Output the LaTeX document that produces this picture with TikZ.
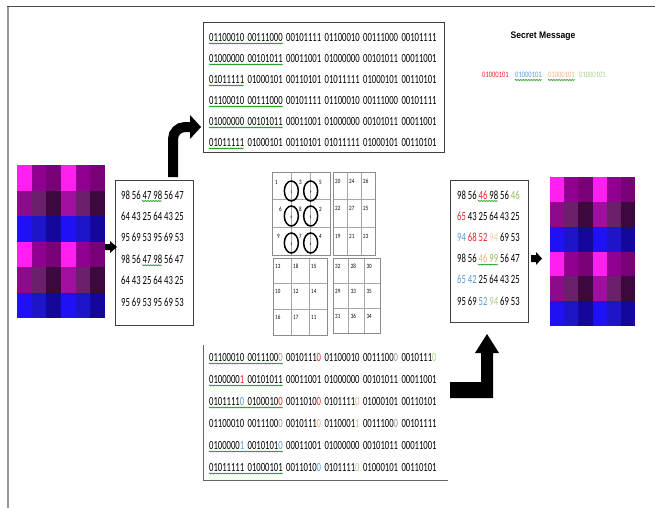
\documentclass[tikz,border=0pt]{standalone}
\usepackage{fontspec}
\setmainfont{Carlito}
\newfontfamily\cnum[FakeStretch=0.78]{Carlito}
\newfontfamily\cnar[FakeStretch=0.69]{Carlito}
\newfontfamily\hbold[FakeStretch=0.9]{Liberation Sans}
\usetikzlibrary{decorations.pathmorphing}
\definecolor{kred}{HTML}{E8262B}
\definecolor{kblue}{HTML}{5B9BD5}
\definecolor{korange}{HTML}{F4B183}
\definecolor{kgreen}{HTML}{A9D18E}
\definecolor{kolive}{HTML}{9BBB59}
\definecolor{kpink}{HTML}{F8CBAD}
\definecolor{klight}{HTML}{9A9A9A}
\definecolor{mA}{HTML}{FF20F0}
\definecolor{mB}{HTML}{900090}
\definecolor{mC}{HTML}{7A0078}
\definecolor{pA}{HTML}{8B0B8B}
\definecolor{pB}{HTML}{6A206A}
\definecolor{pC}{HTML}{3D083D}
\definecolor{pD}{HTML}{A010A0}
\definecolor{bA}{HTML}{2010F5}
\definecolor{bB}{HTML}{1E14C8}
\definecolor{bC}{HTML}{14089A}
\newcommand\kR[1]{\textcolor{kred}{#1}}
\newcommand\kB[1]{\textcolor{kblue}{#1}}
\newcommand\kO[1]{\textcolor{korange}{#1}}
\newcommand\kG[1]{\textcolor{kgreen}{#1}}
\newcommand\kV[1]{\textcolor{kolive}{#1}}
\newcommand\kP[1]{\textcolor{kpink}{#1}}
\newcommand\kL[1]{\textcolor{klight}{#1}}
\begin{document}
\begin{tikzpicture}[x=1pt,y=-1pt,
  box/.style={draw=black!75, line width=0.7pt, fill=white, inner sep=0pt},
  imgbox/.style={inner sep=0pt},
  wavy/.style={draw=green!55!black, line width=0.4pt, decorate,
    decoration={snake, amplitude=0.5pt, segment length=1.6pt}},
  bin/.style={anchor=west, inner sep=0pt, font={\cnar\fontsize{12.5}{13}\selectfont\spaceskip=3.5pt\relax}},
  num/.style={anchor=west, inner sep=0pt, font={\cnar\fontsize{12.5}{13}\selectfont\spaceskip=2pt\relax}},
  sbin/.style={anchor=west, inner sep=0pt, font={\cnum\fontsize{8.4}{9}\selectfont}},
  gnum/.style={anchor=west, inner sep=0pt, font={\cnum\fontsize{6.5}{7}\selectfont}},
  cnum/.style={inner sep=0pt, font={\cnum\fontsize{4}{5}\selectfont}},
  outerln/.style={draw=black!45, line width=1pt},
  innerln/.style={draw=black!35, line width=0.6pt},
  ring/.style={draw=black, line width=1.5pt},
  blk/.style={fill=black}]
\useasboundingbox (0,0) rectangle (655,508);
% frame
\draw[black!70, line width=1pt] (7,7) -- (655,7);
\draw[black!40, line width=1.5pt] (8,7) -- (8,508);

% ---------- left pixel image ----------
\node[imgbox, minimum width=88, minimum height=153] (limg) at (61,241.5) {};
\foreach \r in {0,3}{
  \foreach \c [count=\i from 0] in {mA,mB,mC,mA,mB,mC}
    \fill[\c] (17+\i*14.667,165+\r*25.5) rectangle ++(14.667,25.5);
  \foreach \c [count=\i from 0] in {pA,pB,pC,pD,pB,pC}
    \fill[\c] (17+\i*14.667,165+\r*25.5+25.5) rectangle ++(14.667,25.5);
  \foreach \c [count=\i from 0] in {bA,bB,bC,bA,bB,bC}
    \fill[\c] (17+\i*14.667,165+\r*25.5+51) rectangle ++(14.667,25.5);
}
% ---------- right pixel image ----------
\node[imgbox, minimum width=85, minimum height=149] (rimg) at (592.5,251.5) {};
\foreach \r in {0,3}{
  \foreach \c [count=\i from 0] in {mA,mB,mC,mA,mB,mC}
    \fill[\c] (550+\i*14.167,177+\r*24.833) rectangle ++(14.167,24.833);
  \foreach \c [count=\i from 0] in {pA,pB,pC,pD,pB,pC}
    \fill[\c] (550+\i*14.167,177+\r*24.833+24.833) rectangle ++(14.167,24.833);
  \foreach \c [count=\i from 0] in {bA,bB,bC,bA,bB,bC}
    \fill[\c] (550+\i*14.167,177+\r*24.833+49.667) rectangle ++(14.167,24.833);
}

% ---------- left number box ----------
\node[box, minimum width=78, minimum height=145] (lbox) at (154,252.5) {};
\foreach \t [count=\i from 0] in {98 56 47 98 56 47, 64 43 25 64 43 25, 95 69 53 95 69 53,
  98 56 47 98 56 47, 64 43 25 64 43 25, 95 69 53 95 69 53}
  \node[num] (ln\i) at (121,195+21.4*\i) {\t};
\draw[wavy] (142,201) -- (162,201);
\draw[wavy] (142,265.2) -- (162,265.2);

% ---------- right number box ----------
\node[box, minimum width=78, minimum height=142] (rbox) at (489,251) {};
\node[num] (rn0) at (457,195) {98 56 \kR{46} 98 56 \kV{46}};
\node[num] (rn1) at (457,216.2) {\kR{65} 43 25 64 43 25};
\node[num] (rn2) at (457,237.4) {\kB{94} \kR{68 52} \kP{94} 69 53};
\node[num] (rn3) at (457,258.6) {98 56 \kO{46} \kV{99} 56 47};
\node[num] (rn4) at (457,279.8) {\kB{65 42} 25 64 43 25};
\node[num] (rn5) at (457,301) {95 69 \kB{52} \kG{94} 69 53};
\draw[wavy] (478,201) -- (498,201);
\draw[wavy] (478,264.6) -- (498,264.6);

% ---------- top binary box ----------
\node[box, minimum width=241, minimum height=130] (tbox) at (323.5,87) {};
\foreach \t [count=\i from 0] in {
  01100010 00111000 00101111 01100010 00111000 00101111,
  01000000 00101011 00011001 01000000 00101011 00011001,
  01011111 01000101 00110101 01011111 01000101 00110101,
  01100010 00111000 00101111 01100010 00111000 00101111,
  01000000 00101011 00011001 01000000 00101011 00011001,
  01011111 01000101 00110101 01011111 01000101 00110101}
  \node[bin] (tb\i) at (209,37+21*\i) {\t};
\foreach \i/\w in {0/74,1/74,2/35,3/74,4/74,5/35}
  \draw[wavy] (209,43.5+21*\i) -- ++(\w,0);

% ---------- bottom binary box ----------
\node[inner sep=0pt, minimum width=244, minimum height=135] (bbox) at (326,412.5) {};
\draw[black!60, line width=0.7pt] (bbox.north west) -- (bbox.south west) -- (bbox.south east);
\node[bin] (bb0) at (209,357) {01100010 0011100\kL{0} 0010111\kR{0} 01100010 0011100\kL{0} 0010111\kG{0}};
\node[bin] (bb1) at (209,379) {0100000\kR{1} 00101011 00011001 01000000 00101011 00011001};
\node[bin] (bb2) at (209,401) {0101111\kB{0} 0100010\kR{0} 0011010\kR{0} 0101111\kO{0} 01000101 00110101};
\node[bin] (bb3) at (209,423) {01100010 0011100\kL{0} 0010111\kO{0} 0110001\kG{1} 0011100\kL{0} 00101111};
\node[bin] (bb4) at (209,445) {0100000\kB{1} 0010101\kB{0} 00011001 01000000 00101011 00011001};
\node[bin] (bb5) at (209,467) {01011111 01000101 0011010\kB{0} 0101111\kG{0} 01000101 00110101};
\foreach \i in {0,1,2,4,5}
  \draw[wavy] (209,363.5+22*\i) -- ++(74,0);

% ---------- secret message ----------
\node[font={\hbold\bfseries\fontsize{9.5}{11}\selectfont}] (smt) at (543,36) {Secret Message};
\node[sbin] (s1) at (482,75) {\kR{01000101}};
\node[sbin] (s2) at (515,75) {\kB{01000101}};
\node[sbin] (s3) at (548,75) {\kO{01000101}};
\node[sbin] (s4) at (579,75) {\kG{01000101}};
\draw[wavy] (515,80) -- (542,80);
\draw[wavy] (548,80) -- (575,80);

% ---------- centre grid ----------
% top-left panel with rings
\draw[innerln] (291.33,172) -- (291.33,255) (310.67,172) -- (310.67,255)
  (272,199.67) -- (330,199.67) (272,227.33) -- (330,227.33);
\draw[outerln] (272,172) rectangle (330,255);
\foreach \y/\a/\b in {191/1/9,216/6/4,243/3/4}{
  \draw[ring] (291.33,\y) ellipse [x radius=7, y radius=10];
  \draw[ring] (310.67,\y) ellipse [x radius=7, y radius=10];
  \node[cnum] at (291.33,\y+1) {\a};
  \node[cnum] at (310.67,\y+1) {\b};
}
\foreach \x/\y/\t in {275/182/1,299/182/3,319/182/5,279/209/6,299/209/8,319/209/2,
  277/236/9,299/236/7,319/236/4}
  \node[gnum] at (\x,\y) {\t};
% top-right panel
\draw[innerln] (347,172) -- (347,255) (361,172) -- (361,255)
  (333,199.67) -- (375,199.67) (333,227.33) -- (375,227.33);
\draw[outerln] (333,172) rectangle (375,255);
\foreach \t [count=\k from 0] in {20,24,26,22,27,25,19,21,23}{
  \pgfmathtruncatemacro\cc{mod(\k,3)}
  \pgfmathtruncatemacro\rr{div(\k,3)}
  \node[gnum] at (335+14*\cc,181+27.67*\rr) {\t};
}
% bottom-left panel
\draw[innerln] (291,258) -- (291,335) (309,258) -- (309,335)
  (273,283.67) -- (327,283.67) (273,309.33) -- (327,309.33);
\draw[outerln] (273,258) rectangle (327,335);
\foreach \t [count=\k from 0] in {13,18,15,10,12,14,16,17,11}{
  \pgfmathtruncatemacro\cc{mod(\k,3)}
  \pgfmathtruncatemacro\rr{div(\k,3)}
  \node[gnum] at (275+18*\cc,266+25.67*\rr) {\t};
}
% bottom-right panel
\draw[innerln] (348.67,258) -- (348.67,333) (364.33,258) -- (364.33,333)
  (333,283) -- (380,283) (333,308) -- (380,308);
\draw[outerln] (333,258) rectangle (380,333);
\foreach \t [count=\k from 0] in {32,28,30,29,33,35,31,36,34}{
  \pgfmathtruncatemacro\cc{mod(\k,3)}
  \pgfmathtruncatemacro\rr{div(\k,3)}
  \node[gnum] at (335+15.67*\cc,266+25*\rr) {\t};
}

% ---------- arrows ----------
\fill[blk] (105,244) -- (110,244) -- (110,241) -- (117,247) -- (110,253) -- (110,250) -- (105,250) -- cycle;
\fill[blk] (531,255) -- (536,255) -- (536,252) -- (542,258.5) -- (536,265) -- (536,262) -- (531,262) -- cycle;
\draw[line width=10pt, rounded corners=12pt] (173,177) |- (191,127);
\fill[blk] (190,115) -- (201,127) -- (190,139) -- cycle;
\fill[blk] (450,382) -- (481,382) -- (481,353) -- (475,353) -- (487,334) -- (499,353)
  -- (493,353) -- (493,398) -- (450,398) -- cycle;
\end{tikzpicture}
\end{document}
